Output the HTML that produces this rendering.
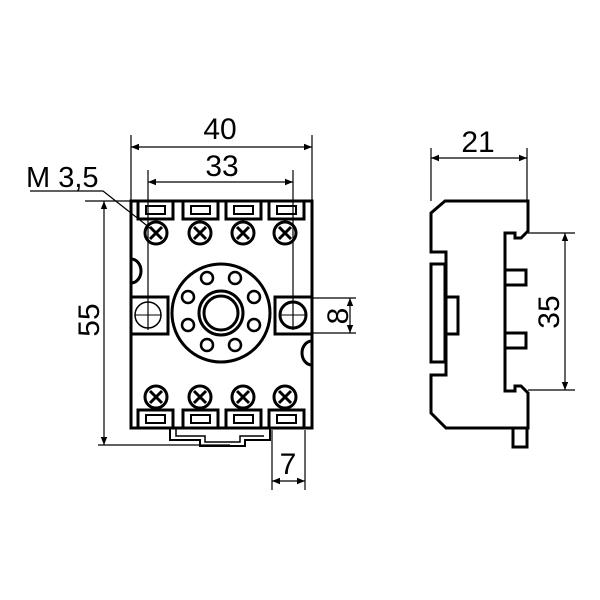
<!DOCTYPE html>
<html><head><style>body{margin:0;background:#fff}svg{display:block}text{font-family:"Liberation Sans",sans-serif;fill:#000}</style></head>
<body>
<svg width="600" height="600" viewBox="0 0 600 600" xmlns="http://www.w3.org/2000/svg">
<defs>
<marker id="a" viewBox="0 0 10 10" refX="10" refY="5" markerWidth="10" markerHeight="8" orient="auto-start-reverse" markerUnits="userSpaceOnUse"><path d="M0,1 L10,5 L0,9 z" fill="#000"/></marker>
<g id="scr"><circle r="11" fill="#fff" stroke="#000" stroke-width="3"/><path d="M-6,-6 L6,6 M-6,6 L6,-6" stroke="#000" stroke-width="3"/></g>
<g id="tt"><rect x="0" y="0" width="35" height="18" fill="none" stroke="#000" stroke-width="3"/><rect x="8" y="5" width="19" height="8" fill="none" stroke="#000" stroke-width="2"/></g>
</defs>
<g stroke="#000" fill="none">
<rect x="131" y="201" width="181" height="227" stroke-width="3"/>
<use href="#tt" x="138" y="201"/><use href="#tt" x="183" y="201"/><use href="#tt" x="226" y="201"/><use href="#tt" x="269" y="201"/>
<use href="#tt" x="138" y="410"/><use href="#tt" x="183" y="410"/><use href="#tt" x="226" y="410"/><use href="#tt" x="269" y="410"/>
<path d="M170,428 L170,440 L200,440 L200,446 L245,446 L245,440 L270,440 L270,428" stroke-width="2"/>
<path d="M176,428 L176,436 L205,436 L205,442 L240,442 L240,436 L264,436" stroke-width="1.5"/>
<path d="M131,259 A10,12 0 0 1 131,283 M312,341 A10,12 0 0 0 312,365" stroke-width="3"/>
<rect x="131" y="297" width="37" height="37" stroke-width="3"/>
<rect x="275" y="297" width="37" height="37" stroke-width="3"/>
<circle cx="148" cy="315" r="13" stroke-width="1.5"/><circle cx="293" cy="315" r="13" stroke-width="3"/>
<path d="M135,315 H161 M148,302 V328 M280,315 H306 M293,302 V328" stroke-width="1"/>
<circle cx="221" cy="313" r="49" stroke-width="3"/>
<circle cx="221" cy="313" r="22" stroke-width="3"/>
<circle cx="221" cy="313" r="17" stroke-width="3"/>
<g stroke-width="2.5">
<circle cx="207" cy="278" r="6"/><circle cx="235" cy="278" r="6"/>
<circle cx="188" cy="297" r="6"/><circle cx="254" cy="297" r="6"/>
<circle cx="188" cy="325" r="6"/><circle cx="254" cy="325" r="6"/>
<circle cx="207" cy="345" r="6"/><circle cx="235" cy="345" r="6"/>
</g>
</g>
<use href="#scr" x="156" y="233"/><use href="#scr" x="200" y="233"/><use href="#scr" x="243" y="233"/><use href="#scr" x="285" y="233"/>
<use href="#scr" x="156" y="397"/><use href="#scr" x="200" y="397"/><use href="#scr" x="243" y="397"/><use href="#scr" x="285" y="397"/>
<g stroke="#000" stroke-width="1.2" fill="none">
<path d="M131,135 V201 M312,135 V201 M148,170 V330 M293,170 V330"/>
<line x1="131" y1="147" x2="312" y2="147" marker-start="url(#a)" marker-end="url(#a)"/>
<line x1="148" y1="182" x2="293" y2="182" marker-start="url(#a)" marker-end="url(#a)"/>
<path d="M85,201 H131 M98,445 H230"/>
<line x1="104" y1="201" x2="104" y2="445" marker-start="url(#a)" marker-end="url(#a)"/>
<path d="M312,298 H356 M312,333 H356"/>
<line x1="350" y1="298" x2="350" y2="333" marker-start="url(#a)" marker-end="url(#a)"/>
<path d="M272,430 V490 M305,430 V490"/>
<line x1="272" y1="481" x2="305" y2="481" marker-start="url(#a)" marker-end="url(#a)"/>
<path d="M30,191 H103 L150,228"/>
</g>
<text x="220" y="139" font-size="30" text-anchor="middle">40</text>
<text x="222" y="176" font-size="30" text-anchor="middle">33</text>
<text x="26" y="187" font-size="29">M 3,5</text>
<text x="288" y="474" font-size="30" text-anchor="middle">7</text>
<text font-size="30" text-anchor="middle" transform="translate(99,320) rotate(-90)">55</text>
<text font-size="30" text-anchor="middle" transform="translate(348,316) rotate(-90)">8</text>
<g stroke="#000" stroke-width="3" fill="none" stroke-linejoin="miter">
<path d="M431,213 L445,201 L528,201 L528,231 L521,238 L515,238 L515,233 L505,233 L505,391 L515,391 L515,386 L521,386 L528,393 L528,428 L446,428 L431,413 L431,375 L446,375 L446,252 L431,252 Z"/>
<rect x="431" y="264" width="14" height="98"/>
<rect x="446" y="297" width="12" height="37"/>
<rect x="513" y="428" width="14" height="19"/>
<rect x="505" y="270" width="21" height="15"/>
<rect x="505" y="333" width="21" height="15"/>
</g>
<g stroke="#000" stroke-width="1.2" fill="none">
<path d="M431,148 V201 M527,148 V201 M528,233 H575 M528,390 H575"/>
<line x1="431" y1="158" x2="527" y2="158" marker-start="url(#a)" marker-end="url(#a)"/>
<line x1="565" y1="233" x2="565" y2="390" marker-start="url(#a)" marker-end="url(#a)"/>
</g>
<text x="478" y="152" font-size="30" text-anchor="middle">21</text>
<text font-size="30" text-anchor="middle" transform="translate(559,312) rotate(-90)">35</text>
</svg>
</body></html>
